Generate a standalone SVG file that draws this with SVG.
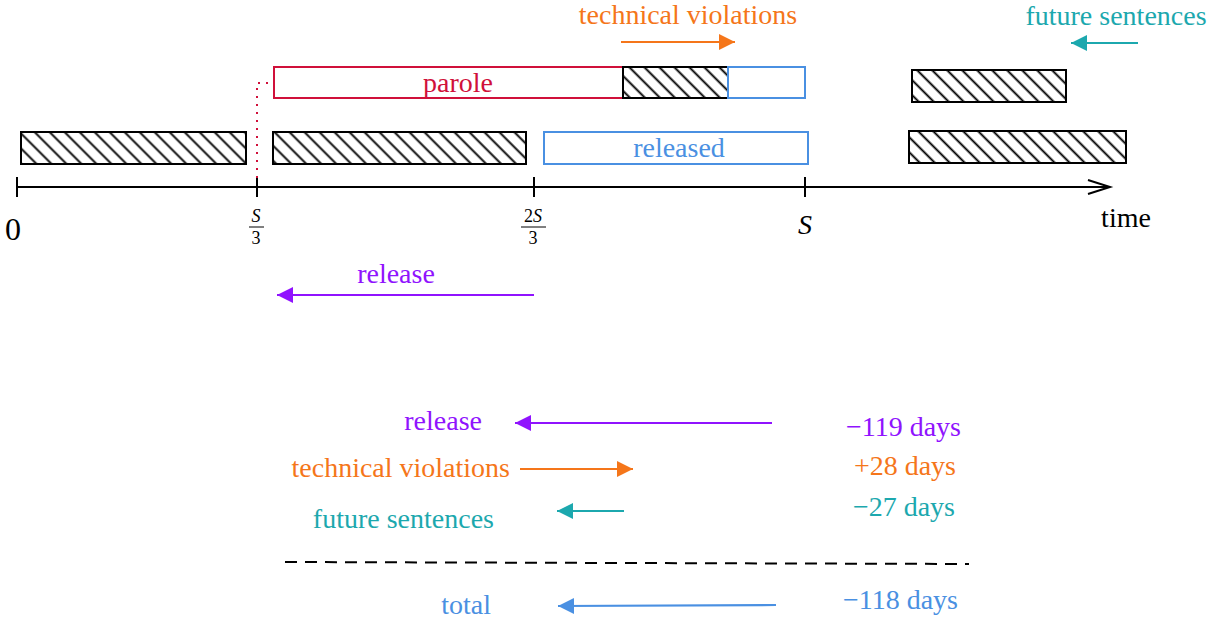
<svg xmlns="http://www.w3.org/2000/svg" width="1219" height="622" viewBox="0 0 1219 622" font-family="'Liberation Serif', 'DejaVu Serif', serif">
  <style>
    text { font-family: "Liberation Serif", "DejaVu Serif", serif; font-size: 28px; }
    .purple { fill: #9013FE; }
    .orange { fill: #F5761A; }
    .teal { fill: #1CA8AE; }
    .blue { fill: #4A90E2; }
    .red { fill: #D0103A; }
    .hatched { fill: url(#hatch); stroke: #000; stroke-width: 2; }
    .axis { stroke: #000; stroke-width: 2; fill: none; }
    .arr { stroke-width: 2.2; fill: none; }
  </style>
  <defs>
    <pattern id="hatch" patternUnits="userSpaceOnUse" width="10.6" height="10.6" patternTransform="rotate(-45)">
      <line x1="5.3" y1="0" x2="5.3" y2="10.6" stroke="#000" stroke-width="1.9"/>
    </pattern>
    <marker id="mPurple" markerUnits="userSpaceOnUse" markerWidth="17" markerHeight="17" refX="16" refY="8" orient="auto">
      <path d="M0,0 L16,8 L0,16 z" fill="#9013FE"/>
    </marker>
    <marker id="mOrange" markerUnits="userSpaceOnUse" markerWidth="17" markerHeight="17" refX="16" refY="8" orient="auto">
      <path d="M0,0 L16,8 L0,16 z" fill="#F5761A"/>
    </marker>
    <marker id="mTeal" markerUnits="userSpaceOnUse" markerWidth="17" markerHeight="17" refX="16" refY="8" orient="auto">
      <path d="M0,0 L16,8 L0,16 z" fill="#1CA8AE"/>
    </marker>
    <marker id="mBlue" markerUnits="userSpaceOnUse" markerWidth="17" markerHeight="17" refX="16" refY="8" orient="auto">
      <path d="M0,0 L16,8 L0,16 z" fill="#4A90E2"/>
    </marker>
  </defs>

  <!-- time axis -->
  <g id="axis">
    <line class="axis" x1="17" y1="187" x2="1110" y2="187"/>
    <path class="axis" d="M1088,180 L1110,187 L1088,194"/>
    <line class="axis" x1="17" y1="177" x2="17" y2="197"/>
    <line class="axis" x1="257" y1="177" x2="257" y2="197"/>
    <line class="axis" x1="534" y1="177" x2="534" y2="197"/>
    <line class="axis" x1="805" y1="177" x2="805" y2="197"/>
    <text x="13" y="240" text-anchor="middle" font-family="Liberation Serif" style="font-size:32px">0</text>
    <text x="256" y="222" text-anchor="middle" style="font-size:18px;font-style:italic">S</text>
    <line x1="249" y1="227" x2="264" y2="227" stroke="#000" stroke-width="1"/>
    <text x="256" y="244" text-anchor="middle" style="font-size:18px">3</text>
    <text x="533" y="222" text-anchor="middle" style="font-size:18px">2<tspan font-style="italic">S</tspan></text>
    <line x1="521" y1="227" x2="546" y2="227" stroke="#000" stroke-width="1"/>
    <text x="533" y="244" text-anchor="middle" style="font-size:18px">3</text>
    <text x="805" y="234" text-anchor="middle" style="font-style:italic">S</text>
    <text x="1126" y="227" text-anchor="middle">time</text>
  </g>

  <!-- first row of intervals -->
  <g id="served-1">
    <rect class="hatched" x="21" y="132" width="225" height="32"/>
  </g>
  <g id="served-2">
    <rect class="hatched" x="273" y="132" width="253" height="32"/>
  </g>
  <g id="released">
    <rect x="544" y="132" width="264" height="32" fill="none" stroke="#4A90E2" stroke-width="2"/>
    <text class="blue" x="679" y="157" text-anchor="middle">released</text>
  </g>
  <g id="served-3">
    <rect class="hatched" x="909" y="131" width="217" height="32"/>
  </g>

  <!-- second row of intervals -->
  <g id="parole">
    <rect x="274" y="67" width="349" height="31" fill="none" stroke="#D0103A" stroke-width="2"/>
    <text class="red" x="458" y="92" text-anchor="middle">parole</text>
    <path d="M257,178 L257,83 L274,83" fill="none" stroke="#D0103A" stroke-width="2" stroke-dasharray="2 6"/>
  </g>
  <g id="violation">
    <rect class="hatched" x="623" y="67" width="105" height="31"/>
  </g>
  <g id="released-2">
    <rect x="728" y="67" width="77" height="31" fill="none" stroke="#4A90E2" stroke-width="2"/>
  </g>
  <g id="served-4">
    <rect class="hatched" x="912" y="70" width="154" height="32"/>
  </g>

  <!-- effect labels above the timeline -->
  <g id="label-technical">
    <text class="orange" x="688" y="24" text-anchor="middle">technical violations</text>
  </g>
  <g id="label-future">
    <text class="teal" x="1116" y="25" text-anchor="middle">future sentences</text>
  </g>
  <g id="label-release">
    <text class="purple" x="396" y="283" text-anchor="middle">release</text>
  </g>

  <!-- summary -->
  <g id="sum-release">
    <text class="purple" x="482" y="430" text-anchor="end">release</text>
    <text class="purple" x="961" y="436" text-anchor="end">−119 days</text>
  </g>
  <g id="sum-technical">
    <text class="orange" x="510" y="477" text-anchor="end">technical violations</text>
    <text class="orange" x="956" y="475" text-anchor="end">+28 days</text>
  </g>
  <g id="sum-future">
    <text class="teal" x="494" y="528" text-anchor="end">future sentences</text>
    <text class="teal" x="955" y="516" text-anchor="end">−27 days</text>
  </g>
  <g id="sum-total">
    <text class="blue" x="491" y="614" text-anchor="end">total</text>
    <text class="blue" x="958" y="609" text-anchor="end">−118 days</text>
  </g>

  <!-- connectors -->
  <g id="connectors">
    <line class="arr" x1="621" y1="42" x2="735" y2="42" stroke="#F5761A" marker-end="url(#mOrange)"/>
    <line class="arr" x1="1138" y1="43" x2="1071" y2="43" stroke="#1CA8AE" marker-end="url(#mTeal)"/>
    <line class="arr" x1="534" y1="295" x2="277" y2="295" stroke="#9013FE" marker-end="url(#mPurple)"/>
    <line class="arr" x1="772" y1="423" x2="515" y2="423" stroke="#9013FE" marker-end="url(#mPurple)"/>
    <line class="arr" x1="520" y1="469" x2="633" y2="469" stroke="#F5761A" marker-end="url(#mOrange)"/>
    <line class="arr" x1="624" y1="511" x2="557" y2="511" stroke="#1CA8AE" marker-end="url(#mTeal)"/>
    <line class="arr" x1="776" y1="605" x2="558" y2="606" stroke="#4A90E2" marker-end="url(#mBlue)"/>
    <line x1="285" y1="562" x2="969" y2="564" stroke="#000" stroke-width="2" stroke-dasharray="12 8"/>
  </g>
</svg>
